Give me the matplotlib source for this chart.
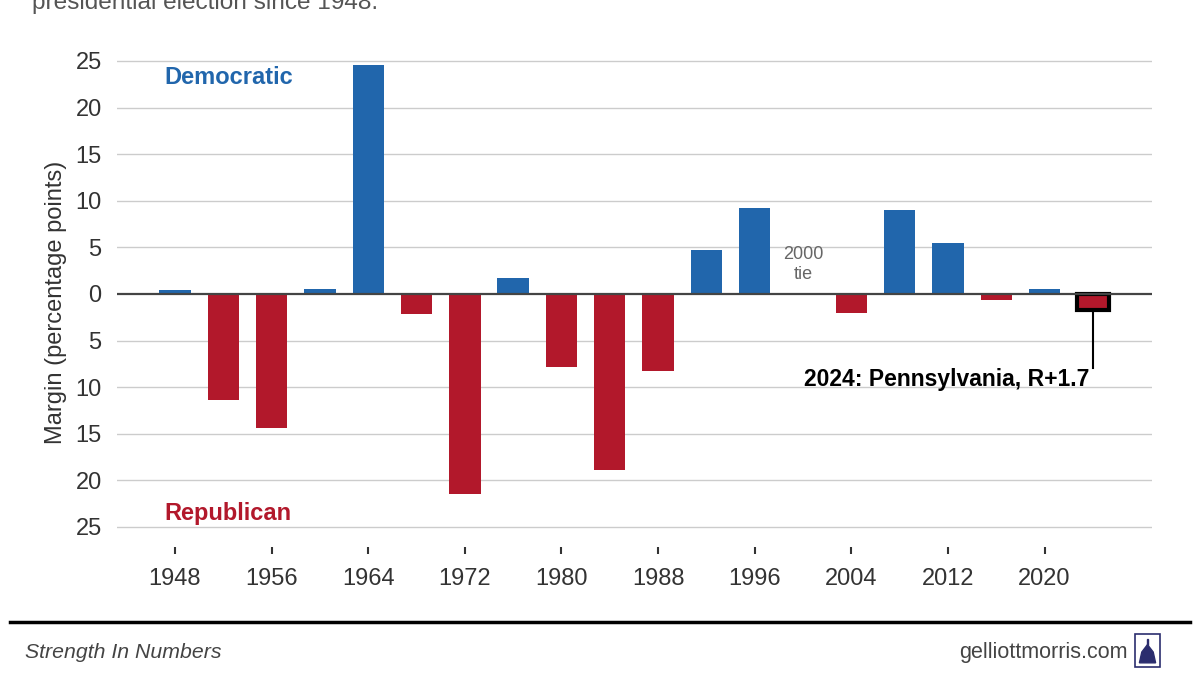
import numpy as np
import matplotlib.pyplot as plt
from matplotlib.patches import Rectangle, Polygon

plt.rcParams['font.family'] = ['Liberation Sans', 'DejaVu Sans']

years = [1948, 1952, 1956, 1960, 1964, 1968, 1972, 1976, 1980, 1984,
         1988, 1992, 1996, 2000, 2004, 2008, 2012, 2016, 2020, 2024]
margins = [0.4, -11.4, -14.4, 0.5, 24.6, -2.1, -21.5, 1.7, -7.8, -18.9,
           -8.3, 4.7, 9.2, 0.0, -2.0, 9.0, 5.5, -0.7, 0.5, -1.7]
tick_years = [1948, 1956, 1964, 1972, 1980, 1988, 1996, 2004, 2012, 2020]
y_ticks = [-25, -20, -15, -10, -5, 0, 5, 10, 15, 20, 25]

blue = '#2166ac'
red = '#b2182b'
txt = '#333333'

fig = plt.figure(figsize=(12, 6.75), dpi=100)
ax = fig.add_axes([0.0975, 0.1889, 0.8625, 0.7277])

colors = [blue if m > 0 else red for m in margins]
bars = ax.bar(years, margins, width=2.6, color=colors, zorder=3)
# highlight the latest year
bars[-1].set_edgecolor('black')
bars[-1].set_linewidth(3)

ax.set_xlim(1943.2, 2028.9)
ax.set_ylim(-27.2, 25.5)
ax.set_yticks(y_ticks)
ax.set_yticklabels([str(abs(v)) for v in y_ticks])
ax.set_xticks(tick_years)
ax.tick_params(axis='y', length=0, pad=11, labelsize=17, labelcolor=txt)
ax.tick_params(axis='x', length=5, width=1.5, color='#333333', pad=10,
               labelsize=17, labelcolor=txt)
for v in y_ticks:
    if v != 0:
        ax.axhline(v, color='#cccccc', lw=1, zorder=1)
ax.axhline(0, color='#444444', lw=1.6, zorder=4)
for s in ax.spines.values():
    s.set_visible(False)
ax.set_ylabel('Margin (percentage points)', fontsize=17, color=txt, labelpad=6)

ax.text(1947.1, 23.2, 'Democratic', color=blue, fontsize=17, fontweight='bold',
        va='center', ha='left')
ax.text(1947.1, -23.5, 'Republican', color=red, fontsize=17, fontweight='bold',
        va='center', ha='left')
ax.text(2000, 4.2, '2000', color='#666666', fontsize=13, ha='center', va='center')
ax.text(2000, 2.1, 'tie', color='#666666', fontsize=13, ha='center', va='center')

ax.plot([2024, 2024], [-1.7, -7.9], color='black', lw=1.5, zorder=4)
ax.text(2011.9, -9.2, '2024: Pennsylvania, R+1.7', fontsize=16.5, fontweight='bold',
        color='black', ha='center', va='center')

# cut-off title at top
fig.text(0.027, 0.987, 'presidential election since 1948.', fontsize=17.6,
         color='#555555', ha='left', va='baseline')

# footer
fig.add_artist(plt.Line2D([0.0083, 0.9917], [0.0785, 0.0785], color='black', lw=2.5))
fig.text(0.021, 0.034, 'Strength In Numbers', fontsize=15.3, style='italic',
         color='#444444', ha='left', va='center')
fig.text(0.9395, 0.034, 'gelliottmorris.com', fontsize=15.5, color='#444444',
         ha='right', va='center')

# small logo
lx, ly, lw_, lh = 0.9455, 0.012, 0.0215, 0.049
navy = '#2b2d6e'
fig.add_artist(Rectangle((lx, ly), lw_, lh, transform=fig.transFigure,
                         fill=False, edgecolor=navy, lw=1.2))
fig.add_artist(Polygon([[lx + 0.004, ly + 0.006], [lx + 0.0175, ly + 0.006],
                        [lx + 0.0155, ly + 0.022], [lx + 0.01075, ly + 0.033],
                        [lx + 0.006, ly + 0.022]], closed=True,
                       transform=fig.transFigure, color=navy))
fig.add_artist(Rectangle((lx + 0.01, ly + 0.032), 0.0015, 0.009,
                         transform=fig.transFigure, color=navy))

fig.savefig('out.png', dpi=100)
